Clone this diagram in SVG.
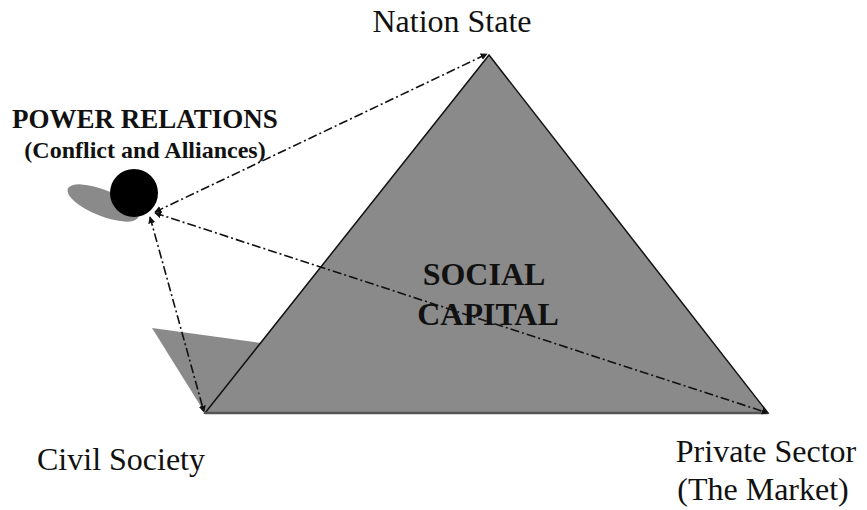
<svg xmlns="http://www.w3.org/2000/svg" width="867" height="510" viewBox="0 0 867 510">
<style>
.lbl{font-family:"Liberation Serif","Times New Roman",serif;font-size:32px;fill:#111;text-anchor:middle}
.b{font-weight:bold}
.conn{fill:none;stroke:#111;stroke-width:1.6;stroke-dasharray:9 3 2 3}
.shade{fill:#8a8a8a}
</style>
<defs>
<marker id="ah" viewBox="0 0 10 10" refX="9" refY="5" markerWidth="7" markerHeight="7" markerUnits="userSpaceOnUse" orient="auto-start-reverse">
<path d="M0,0 L10,5 L0,10 z" fill="#111"/>
</marker>
</defs>
<rect width="867" height="510" fill="#fff"/>
<g id="social-capital">
<polygon class="shade" points="152,328 261,343 205,413"/>
<polygon points="489,55 205,413 768,413" fill="#8a8a8a" stroke="#111" stroke-width="1.5"/>
<line x1="205" y1="413" x2="768" y2="413" stroke="#555" stroke-width="2.5"/>
<text class="lbl b" x="484" y="285">SOCIAL</text>
<text class="lbl b" x="488" y="325">CAPITAL</text>
</g>
<g id="power-relations">
<ellipse class="shade" cx="103" cy="203" rx="38" ry="13" transform="rotate(22 103 203)"/>
<circle cx="134" cy="193" r="24" fill="#000"/>
<text class="lbl b" x="145" y="128" style="font-size:27px">POWER RELATIONS</text>
<text class="lbl b" x="145" y="158" style="font-size:24px">(Conflict and Alliances)</text>
</g>
<g id="nation-state"><text class="lbl" x="452" y="32">Nation State</text></g>
<g id="civil-society"><text class="lbl" x="121" y="470">Civil Society</text></g>
<g id="private-sector">
<text class="lbl" x="766" y="462">Private Sector</text>
<text class="lbl" x="763" y="500">(The Market)</text>
</g>
<g id="connectors">
<line class="conn" x1="155" y1="212" x2="487" y2="54" marker-start="url(#ah)" marker-end="url(#ah)"/>
<line class="conn" x1="155" y1="213" x2="768" y2="413" marker-start="url(#ah)" marker-end="url(#ah)"/>
<line class="conn" x1="150" y1="217" x2="204" y2="412" marker-start="url(#ah)" marker-end="url(#ah)"/>
</g>
</svg>
